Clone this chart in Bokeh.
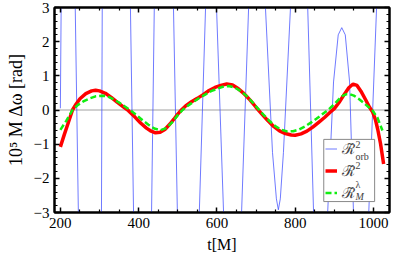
from bokeh.plotting import figure
from bokeh.models import Range1d, FixedTicker, LinearAxis, Span, Legend, LegendItem, Label, BoxAnnotation
from bokeh.embed import file_html
from bokeh.resources import INLINE

# ---- data ----
t_orb = [200, 202, 215, 238, 246, 270, 305, 307, 340, 379, 387, 410, 433, 440, 465,
         489, 499, 527, 555, 571, 585, 599, 617, 640, 663, 681, 702,
         724, 742, 752, 757, 762, 770, 788, 810, 832, 847, 865,
         883, 898, 910, 919, 928, 939, 949, 968, 988, 1008, 1020]
r_orb = [0.05, 3, 9, 3, -3, -9, -3, 3, 9, 3, -3, -9, -3, 3, 9,
         3, -3, -9, -3, 3, 6, 3, -3, -6, -3, 3, 6,
         3, -1.24, -2.6, -2.92, -2.6, -1.24, 3, 6, 3, -3, -5,
         -3, 0.82, 2.2, 2.41, 2.2, 0.82, -3, -5, -3, 3, 6]

t_r2 = [200, 210, 220, 231, 240, 250, 265, 280, 290, 300, 315, 330, 345, 360, 374, 390,
        405, 420, 432, 443, 455, 467, 480, 490, 500, 510, 520, 535, 550, 565, 580, 595,
        610, 625, 640, 655, 670, 685, 700, 715, 730, 745, 760, 775, 790, 800, 815, 830,
        845, 860, 875, 890, 900, 912, 925, 937, 948, 958, 968, 980, 990, 998, 1005, 1011,
        1018, 1026]
r2 = [-1.08, -0.72, -0.38, 0.0, 0.17, 0.33, 0.48, 0.56, 0.58, 0.56, 0.49, 0.37, 0.23, 0.10,
      -0.02, -0.20, -0.38, -0.53, -0.62, -0.67, -0.65, -0.57, -0.41, -0.27, -0.12, 0.01,
      0.12, 0.24, 0.34, 0.45, 0.57, 0.66, 0.72, 0.76, 0.73, 0.62, 0.47, 0.29, 0.08, -0.12,
      -0.31, -0.48, -0.61, -0.69, -0.73, -0.74, -0.70, -0.62, -0.50, -0.36, -0.22, -0.06,
      0.04, 0.22, 0.45, 0.65, 0.76, 0.72, 0.55, 0.30, 0.08, -0.06, -0.28, -0.57, -0.98, -1.58]

t_rm = [200, 215, 231, 245, 260, 275, 290, 307, 320, 335, 350, 365, 379, 395, 410, 425,
        440, 456, 470, 485, 500, 512, 525, 540, 555, 570, 585, 600, 615, 630, 645, 660,
        675, 690, 705, 720, 735, 750, 765, 780, 795, 810, 825, 840, 855, 870, 885, 900,
        912, 922, 930, 940, 950, 962, 975, 988, 998, 1010, 1023]
rm = [-0.58, -0.32, 0.0, 0.15, 0.26, 0.34, 0.40, 0.42, 0.40, 0.32, 0.22, 0.10, -0.01,
      -0.15, -0.30, -0.43, -0.54, -0.59, -0.53, -0.37, -0.15, 0.0, 0.12, 0.24, 0.35,
      0.45, 0.55, 0.62, 0.68, 0.70, 0.66, 0.56, 0.42, 0.24, 0.04, -0.15, -0.33, -0.48,
      -0.58, -0.63, -0.62, -0.57, -0.48, -0.37, -0.25, -0.12, 0.01, 0.17, 0.32, 0.42,
      0.46, 0.46, 0.42, 0.33, 0.21, 0.08, -0.02, -0.22, -0.60]

x_major = [200, 400, 600, 800, 1000]
x_minor = [250, 300, 350, 450, 500, 550, 650, 700, 750, 850, 900, 950]
y_major = [-3, -2, -1, 0, 1, 2, 3]
y_minor = [round(-3 + 0.2 * i, 1) for i in range(31) if i % 5 != 0]
y_labels = {-3: "\u22123", -2: "\u22122", -1: "\u22121", 0: "0", 1: "1", 2: "2", 3: "3"}

legend_base = ["\u211b\u0303", "\u211b\u0303", "\u211b\u0303"]
# (text, t, value) of the small super/subscripts next to the legend entries
legend_marks = [("2", 954, -1.02), ("orb", 954, -1.35), ("2", 954, -1.61),
                ("\u03bb", 954, -2.17), ("M", 954, -2.52)]
# legend box extent in data units
LEG_BOX = dict(left=873, right=1003, top=-0.86, bottom=-2.68)

SERIF = "Liberation Serif"

p = figure(width=415, height=259, x_range=Range1d(185, 1041), y_range=Range1d(-3, 3),
           output_backend="svg", toolbar_location=None,
           min_border_left=54, min_border_right=26, min_border_top=7, min_border_bottom=47)
p.background_fill_color = "white"
p.border_fill_color = "white"
p.grid.visible = False
p.outline_line_color = "black"
p.outline_line_width = 2

zero = Span(location=0, dimension="width", line_color="#a0a0a0", line_width=1, level="underlay")
p.add_layout(zero)

r_b = p.line(t_orb, r_orb, line_color="#3f4dff", line_width=1, line_alpha=0.75)
r_r = p.line(t_r2, r2, line_color="#ff0000", line_width=3.5)
r_g = p.line(t_rm, rm, line_color="#11ee11", line_width=2.5, line_dash="6 3")


def style_axis(ax, major, minor, show_labels):
    ax.ticker = FixedTicker(ticks=major, minor_ticks=minor)
    ax.axis_line_color = "black"
    ax.axis_line_width = 2
    ax.major_tick_in = 5
    ax.major_tick_out = 0
    ax.minor_tick_in = 3
    ax.minor_tick_out = 0
    ax.major_tick_line_color = "black"
    ax.minor_tick_line_color = "black"
    ax.major_tick_line_width = 1.5
    ax.minor_tick_line_width = 1.2
    if show_labels:
        ax.major_label_text_font = SERIF
        ax.major_label_text_font_size = "15px"
        ax.major_label_text_color = "black"
        ax.axis_label_text_font = SERIF
        ax.axis_label_text_font_style = "normal"
        ax.axis_label_text_color = "black"
    else:
        ax.major_label_text_font_size = "1px"
        ax.major_label_text_color = None
        ax.major_label_standoff = 0


xa = p.xaxis[0]
style_axis(xa, x_major, x_minor, True)
xa.axis_label = "t[M]"
xa.axis_label_text_font_size = "16px"
xa.major_label_standoff = 5
xa.axis_label_standoff = 5

ya = p.yaxis[0]
style_axis(ya, y_major, y_minor, True)
ya.major_label_overrides = y_labels
ya.axis_label = "10\u2075 M \u0394\u03c9 [rad]"
ya.axis_label_text_font_size = "18px"
ya.major_label_standoff = 5
ya.axis_label_standoff = 5

top = LinearAxis()
style_axis(top, x_major, x_minor, False)
p.add_layout(top, "above")
right = LinearAxis()
style_axis(right, y_major, y_minor, False)
p.add_layout(right, "right")

box = BoxAnnotation(**LEG_BOX, fill_color="white", fill_alpha=1,
                    line_color="#888888", line_width=1, line_alpha=1)
p.add_layout(box)

for txt, tx, ty in legend_marks:
    p.add_layout(Label(x=tx, y=ty, text=txt,
                       text_font=SERIF, text_font_size="10px", text_baseline="middle",
                       text_font_style="italic" if txt == "M" else "normal"))

leg = Legend(items=[LegendItem(label=legend_base[0], renderers=[r_b]),
                    LegendItem(label=legend_base[1], renderers=[r_r]),
                    LegendItem(label=legend_base[2], renderers=[r_g])],
             location=(271, 10), padding=4, spacing=2, margin=0,
             glyph_width=12, glyph_height=17, label_height=17, label_width=24,
             label_standoff=5, label_text_font=SERIF, label_text_font_size="15px",
             border_line_color=None, background_fill_alpha=0)
p.add_layout(leg)

open("out.html", "w").write(file_html(p, INLINE))
